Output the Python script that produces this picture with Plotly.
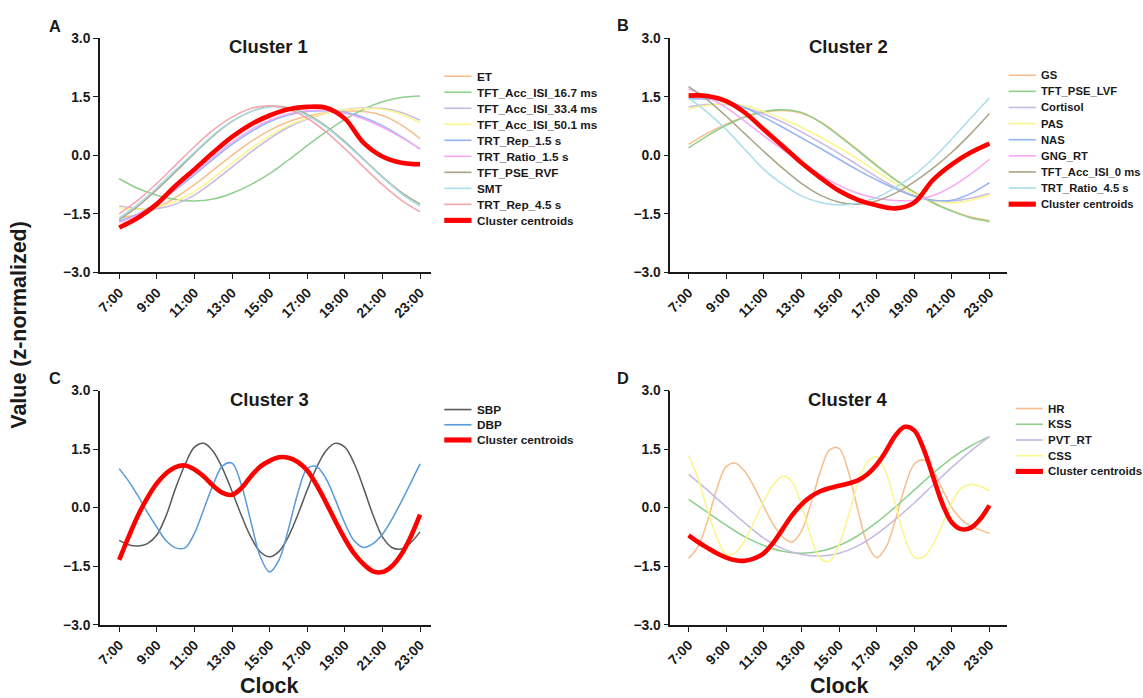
import plotly.graph_objects as go

# ---------------- data ----------------
HOURS = [7, 8, 9, 10, 11, 12, 13, 14, 15, 16, 17, 18, 19, 20, 21, 22, 23]
HALF_HOURS = [7, 7.5, 8, 8.5, 9, 9.5, 10, 10.5, 11, 11.5, 12, 12.5, 13, 13.5, 14, 14.5,
              15, 15.5, 16, 16.5, 17, 17.5, 18, 18.5, 19, 19.5, 20, 20.5, 21, 21.5, 22, 22.5, 23]
TICK_HOURS = [7, 9, 11, 13, 15, 17, 19, 21, 23]
TICK_LABELS = ["7:00", "9:00", "11:00", "13:00", "15:00", "17:00", "19:00", "21:00", "23:00"]
Y_TICKS = [-3.0, -1.5, 0.0, 1.5, 3.0]
Y_LABELS = ["\u22123.0", "\u22121.5", "0.0", "1.5", "3.0"]

# Cluster 1 (hourly)
c1_et = [-1.6, -1.52, -1.35, -1.08, -0.75, -0.38, 0.0, 0.35, 0.64, 0.86, 1.0, 1.09, 1.13, 1.12, 1.02, 0.78, 0.43]
c1_acc_16 = [-0.6, -0.85, -1.02, -1.13, -1.17, -1.12, -0.97, -0.75, -0.47, -0.12, 0.25, 0.6, 0.92, 1.18, 1.37, 1.48, 1.52]
c1_acc_33 = [-1.3, -1.37, -1.37, -1.25, -1.02, -0.68, -0.3, 0.08, 0.43, 0.72, 0.93, 1.08, 1.17, 1.21, 1.2, 1.1, 0.9]
c1_acc_50 = [-1.34, -1.38, -1.33, -1.18, -0.93, -0.58, -0.2, 0.17, 0.5, 0.76, 0.95, 1.08, 1.16, 1.2, 1.18, 1.06, 0.82]
c1_rep_15 = [-1.68, -1.5, -1.22, -0.88, -0.5, -0.1, 0.28, 0.6, 0.86, 1.03, 1.12, 1.14, 1.1, 0.97, 0.76, 0.48, 0.16]
c1_ratio_15 = [-1.72, -1.52, -1.22, -0.85, -0.45, -0.05, 0.33, 0.65, 0.9, 1.06, 1.14, 1.15, 1.08, 0.93, 0.72, 0.46, 0.17]
c1_pse_rvf = [-1.65, -1.3, -0.88, -0.42, 0.05, 0.5, 0.87, 1.12, 1.25, 1.22, 1.05, 0.75, 0.35, -0.1, -0.55, -0.95, -1.25]
c1_smt = [-1.6, -1.25, -0.83, -0.37, 0.08, 0.52, 0.88, 1.12, 1.24, 1.2, 1.02, 0.72, 0.32, -0.12, -0.57, -0.98, -1.3]
c1_rep_45 = [-1.5, -1.15, -0.72, -0.25, 0.22, 0.65, 0.98, 1.2, 1.27, 1.18, 0.95, 0.6, 0.17, -0.3, -0.75, -1.15, -1.45]
c1_centroid = [-1.85, -1.6, -1.25, -0.78, -0.36, 0.07, 0.47, 0.79, 1.02, 1.18, 1.24, 1.22, 0.94, 0.32, -0.03, -0.19, -0.23]

# Cluster 2 (hourly)
c2_gs = [0.28, 0.57, 0.8, 0.99, 1.11, 1.15, 1.08, 0.86, 0.52, 0.14, -0.25, -0.62, -0.94, -1.2, -1.42, -1.58, -1.67]
c2_pse_lvf = [0.19, 0.5, 0.77, 0.98, 1.12, 1.17, 1.1, 0.85, 0.5, 0.12, -0.27, -0.63, -0.95, -1.22, -1.43, -1.6, -1.7]
c2_cortisol = [1.24, 1.3, 1.3, 1.22, 1.06, 0.85, 0.6, 0.33, 0.05, -0.25, -0.55, -0.82, -1.03, -1.15, -1.17, -1.1, -0.98]
c2_pas = [1.19, 1.28, 1.32, 1.27, 1.12, 0.93, 0.72, 0.47, 0.2, -0.1, -0.42, -0.72, -0.98, -1.15, -1.22, -1.15, -1.01]
c2_nas = [1.45, 1.44, 1.38, 1.22, 0.98, 0.72, 0.45, 0.18, -0.1, -0.38, -0.63, -0.86, -1.05, -1.15, -1.15, -0.98, -0.7]
c2_gng_rt = [1.7, 1.5, 1.22, 0.87, 0.5, 0.15, -0.18, -0.5, -0.77, -0.97, -1.1, -1.16, -1.15, -1.03, -0.8, -0.48, -0.1]
c2_acc_0 = [1.76, 1.42, 1.0, 0.55, 0.1, -0.33, -0.72, -1.02, -1.2, -1.25, -1.17, -0.97, -0.68, -0.33, 0.08, 0.55, 1.07]
c2_ratio_45 = [1.47, 1.1, 0.66, 0.15, -0.36, -0.74, -1.04, -1.21, -1.27, -1.22, -1.08, -0.82, -0.5, -0.08, 0.42, 0.95, 1.47]
c2_centroid = [1.53, 1.52, 1.39, 1.09, 0.66, 0.24, -0.19, -0.57, -0.91, -1.14, -1.28, -1.36, -1.21, -0.63, -0.23, 0.07, 0.3]

# Cluster 3 (half-hourly)
c3_sbp = [-0.84, -0.95, -0.98, -0.92, -0.7, -0.2, 0.5, 1.1, 1.55, 1.65, 1.44, 1.0, 0.42, -0.2, -0.75, -1.13,
          -1.26, -1.12, -0.74, -0.18, 0.45, 1.03, 1.46, 1.65, 1.55, 1.13, 0.5, -0.19, -0.75, -1.02, -1.06, -0.9, -0.62]
c3_dbp = [1.0, 0.68, 0.3, -0.12, -0.5, -0.85, -1.03, -1.03, -0.66, -0.04, 0.59, 1.07, 1.14, 0.58, -0.35, -1.25,
          -1.65, -1.34, -0.55, 0.37, 1.0, 1.05, 0.74, 0.2, -0.4, -0.85, -1.02, -0.92, -0.68, -0.3, 0.15, 0.63, 1.12]
c3_centroid = [-1.34, -0.75, -0.2, 0.25, 0.62, 0.88, 1.04, 1.08, 0.98, 0.8, 0.56, 0.38, 0.33, 0.5, 0.8, 1.05,
               1.2, 1.29, 1.28, 1.17, 0.95, 0.58, 0.13, -0.35, -0.8, -1.18, -1.45, -1.63, -1.65, -1.5, -1.2, -0.75, -0.18]

# Cluster 4 (HR, CSS, centroid half-hourly; KSS, PVT_RT hourly)
c4_hr = [-1.3, -1.0, -0.35, 0.48, 1.05, 1.14, 0.92, 0.52, 0.03, -0.43, -0.75, -0.88, -0.6, 0.1, 0.91, 1.48,
         1.52, 0.92, -0.05, -0.92, -1.28, -1.01, -0.31, 0.53, 1.11, 1.22, 0.94, 0.47, 0.0, -0.3, -0.47, -0.57, -0.66]
c4_kss = [0.21, -0.12, -0.45, -0.75, -0.97, -1.12, -1.17, -1.12, -0.97, -0.72, -0.38, 0.02, 0.45, 0.88, 1.27, 1.58, 1.82]
c4_pvt_rt = [0.85, 0.45, 0.02, -0.4, -0.78, -1.05, -1.2, -1.24, -1.17, -0.98, -0.68, -0.3, 0.12, 0.58, 1.03, 1.45, 1.82]
c4_css = [1.34, 0.75, -0.05, -0.75, -1.2, -1.15, -0.83, -0.35, 0.17, 0.58, 0.8, 0.67, 0.06, -0.73, -1.3, -1.37,
          -0.95, -0.21, 0.6, 1.16, 1.31, 0.9, 0.09, -0.77, -1.27, -1.26, -0.94, -0.42, 0.12, 0.5, 0.6, 0.55, 0.43]
c4_centroid = [-0.71, -0.88, -1.03, -1.17, -1.28, -1.35, -1.36, -1.3, -1.17, -0.9, -0.55, -0.2, 0.08, 0.28, 0.42, 0.5,
               0.56, 0.62, 0.7, 0.85, 1.1, 1.45, 1.85, 2.07, 1.98, 1.5, 0.8, 0.1, -0.38, -0.55, -0.52, -0.3, 0.06]

# ---------------- styling ----------------
W, H = 1143, 698
PAD = 8                        # page body margin around the figure
KX = W / (W + 2 * PAD)         # page -> view scale, horizontal
KY = H / (H + 2 * PAD)         # page -> view scale, vertical
FS = 1.0 / KY                  # keeps text and strokes at their on-screen size
FONT = "Arial, 'Liberation Sans', Helvetica, sans-serif"
INK = "#1a1a1a"
ORANGE, GREEN, LAVENDER, YELLOW = "#F8BF8C", "#8FD08C", "#C7B9E2", "#FBF58E"
BLUE, MAGENTA, KHAKI, CYAN, ROSE = "#93B5F2", "#F6A8F4", "#ABA587", "#A9DEEA", "#F4A6AC"
CENTROID = "#FF0000"

# Positions below are on-screen pixels of the final view
clusters = [
    dict(letter="A", title="Cluster 1", xdom=(102, 430), ydom=(39, 273), x7=121, x23=419,
         legend=(443, 470, 473, 77, 16.0, 11.5),
         series=[("ET", HOURS, c1_et, ORANGE), ("TFT_Acc_ISI_16.7 ms", HOURS, c1_acc_16, GREEN),
                 ("TFT_Acc_ISI_33.4 ms", HOURS, c1_acc_33, LAVENDER), ("TFT_Acc_ISI_50.1 ms", HOURS, c1_acc_50, YELLOW),
                 ("TRT_Rep_1.5 s", HOURS, c1_rep_15, BLUE), ("TRT_Ratio_1.5 s", HOURS, c1_ratio_15, MAGENTA),
                 ("TFT_PSE_RVF", HOURS, c1_pse_rvf, KHAKI), ("SMT", HOURS, c1_smt, CYAN),
                 ("TRT_Rep_4.5 s", HOURS, c1_rep_45, ROSE)],
         centroid=(HOURS, c1_centroid), title_xy=(269, 47), letter_xy=(57, 27)),
    dict(letter="B", title="Cluster 2", xdom=(667, 1000), ydom=(39, 273), x7=685, x23=983,
         legend=(1002, 1029, 1032, 76, 16.1, 11.0),
         series=[("GS", HOURS, c2_gs, ORANGE), ("TFT_PSE_LVF", HOURS, c2_pse_lvf, GREEN),
                 ("Cortisol", HOURS, c2_cortisol, LAVENDER), ("PAS", HOURS, c2_pas, YELLOW),
                 ("NAS", HOURS, c2_nas, BLUE), ("GNG_RT", HOURS, c2_gng_rt, MAGENTA),
                 ("TFT_Acc_ISI_0 ms", HOURS, c2_acc_0, KHAKI), ("TRT_Ratio_4.5 s", HOURS, c2_ratio_45, CYAN)],
         centroid=(HOURS, c2_centroid), title_xy=(843, 47), letter_xy=(620, 26)),
    dict(letter="C", title="Cluster 3", xdom=(102, 430), ydom=(391, 625), x7=121, x23=419,
         legend=(443, 470, 473, 410, 15.2, 11.5),
         series=[("SBP", HALF_HOURS, c3_sbp, "#5C5C5C"), ("DBP", HALF_HOURS, c3_dbp, "#5A9BDA")],
         centroid=(HALF_HOURS, c3_centroid), title_xy=(270, 400), letter_xy=(57, 378)),
    dict(letter="D", title="Cluster 4", xdom=(667, 1000), ydom=(391, 625), x7=685, x23=983,
         legend=(1009, 1036, 1039, 409, 15.7, 11.2),
         series=[("HR", HALF_HOURS, c4_hr, ORANGE), ("KSS", HOURS, c4_kss, GREEN),
                 ("PVT_RT", HOURS, c4_pvt_rt, LAVENDER), ("CSS", HALF_HOURS, c4_css, YELLOW)],
         centroid=(HALF_HOURS, c4_centroid), title_xy=(843, 400), letter_xy=(620, 378)),
]


def fx(px):
    return (px / KX - PAD) / W


def fy(py):
    return 1 - (py / KY - PAD) / H


def font(size):
    return dict(family=FONT, size=size * FS, color=INK, weight="bold")


fig = go.Figure()
shapes, annotations = [], []
layout_axes = {}

for i, cl in enumerate(clusters, start=1):
    xa, ya = f"x{i}", f"y{i}"
    # Thin member curves, then the thick centroid on top
    for name, xs, ys, color in cl["series"]:
        fig.add_trace(go.Scatter(x=xs, y=ys, mode="lines", name=name, showlegend=False,
                                 line=dict(color=color, width=1.5 * FS, shape="spline", smoothing=1.0),
                                 xaxis=xa, yaxis=ya))
    cx, cy = cl["centroid"]
    fig.add_trace(go.Scatter(x=cx, y=cy, mode="lines", name="Cluster centroids", showlegend=False,
                             line=dict(color=CENTROID, width=4.5 * FS, shape="spline", smoothing=1.0),
                             xaxis=xa, yaxis=ya))

    # Axis ranges so that 7:00 and 23:00 land on their pixel columns
    x0, x1 = cl["xdom"]
    scale = (cl["x23"] - cl["x7"]) / 16.0
    xr = [7 - (cl["x7"] - x0) / scale, 23 + (x1 - cl["x23"]) / scale]
    ytop, ybot = cl["ydom"]
    suffix = "" if i == 1 else str(i)
    common = dict(ticks="outside", ticklen=5 * FS, tickwidth=1.3 * FS, tickcolor=INK,
                  showline=True, linecolor=INK, linewidth=1.5 * FS, showgrid=False, zeroline=False,
                  tickfont=font(13.5), fixedrange=True, tickmode="array")
    layout_axes["xaxis" + suffix] = dict(
        domain=[fx(x0), fx(x1)], range=xr, anchor=ya,
        tickvals=TICK_HOURS, ticktext=TICK_LABELS, tickangle=-45, **common)
    layout_axes["yaxis" + suffix] = dict(
        domain=[fy(ybot), fy(ytop)], range=[-3, 3], anchor=xa,
        tickvals=Y_TICKS, ticktext=Y_LABELS, **common)

    # Panel title and letter
    tx, ty = cl["title_xy"]
    annotations.append(dict(x=fx(tx), y=fy(ty), xref="paper", yref="paper", text=cl["title"],
                            showarrow=False, xanchor="center", yanchor="middle", font=font(18)))
    lx, ly = cl["letter_xy"]
    annotations.append(dict(x=fx(lx), y=fy(ly), xref="paper", yref="paper", text=cl["letter"],
                            showarrow=False, xanchor="center", yanchor="middle", font=font(16)))

    # Key: one short line and label per series, centroid last
    kx0, kx1, ktx, ky0, kdy, ksize = cl["legend"]
    entries = [(n, c, 1.6) for n, _, _, c in cl["series"]] + [("Cluster centroids", CENTROID, 5)]
    for k, (name, color, lw) in enumerate(entries):
        yy = ky0 + k * kdy
        shapes.append(dict(type="line", xref="paper", yref="paper", x0=fx(kx0), x1=fx(kx1),
                           y0=fy(yy), y1=fy(yy), line=dict(color=color, width=lw * FS)))
        annotations.append(dict(x=fx(ktx), y=fy(yy), xref="paper", yref="paper", text=name,
                                showarrow=False, xanchor="left", yanchor="middle", font=font(ksize)))

# Shared axis titles
annotations.append(dict(x=fx(22), y=fy(325), xref="paper", yref="paper", text="Value (z-normalized)",
                        textangle=-90, showarrow=False, xanchor="center", yanchor="middle", font=font(21)))
for cxp in (270, 834):
    annotations.append(dict(x=fx(cxp), y=fy(686), xref="paper", yref="paper", text="Clock",
                            showarrow=False, xanchor="center", yanchor="middle", font=font(21)))

fig.update_layout(
    width=W, height=H, margin=dict(l=0, r=0, t=0, b=0),
    paper_bgcolor="white", plot_bgcolor="white", showlegend=False,
    shapes=shapes, annotations=annotations, **layout_axes)

fig.write_html("out.html", config={"displayModeBar": False})
